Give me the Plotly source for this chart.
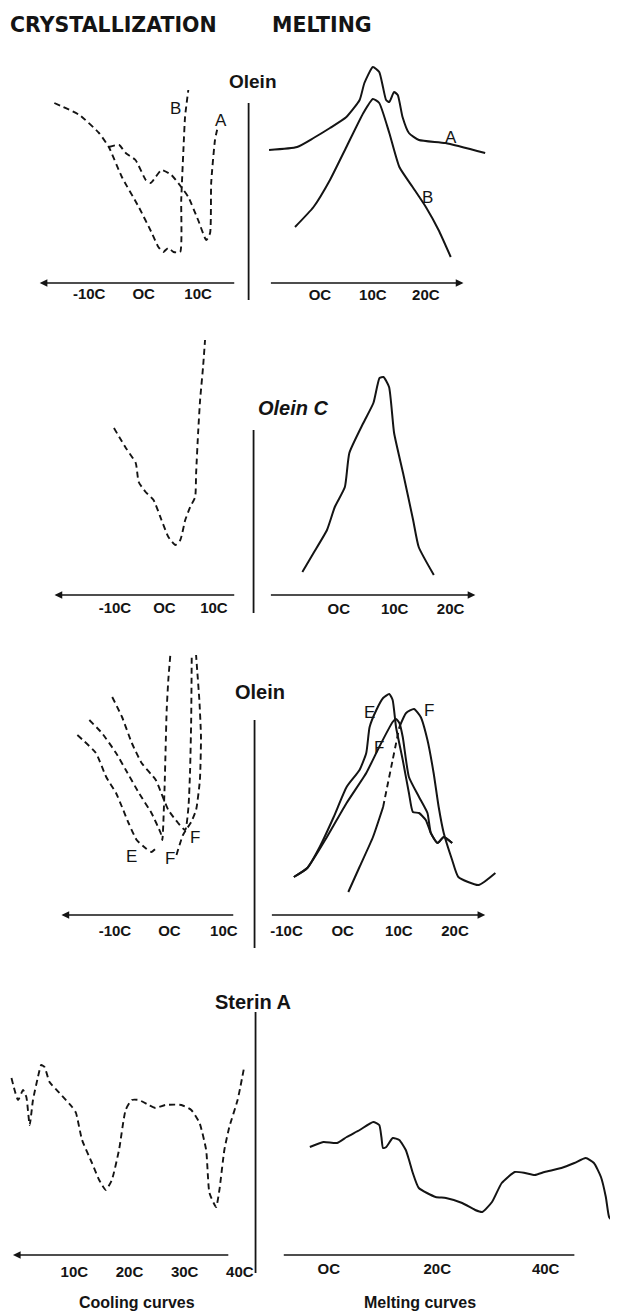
import plotly.graph_objects as go

# ---------------- DATA (temperature in deg C, signal in arbitrary units above baseline) -------------
# Row 1 - Olein, cooling
olein_cool_B_T = [-16.4, -11.8, -8.2, -6.4, -4.0, -0.9, 1.5, 2.7, 3.6, 4.5, 5.5, 6.7, 6.9, 7.3, 7.6, 8.2]
olein_cool_B_S = [180, 168, 150, 136, 106, 76, 50, 36, 31, 35, 31, 31, 83, 133, 166, 193]
olein_cool_A_T = [-6.4, -4.5, -3.3, -1.5, 0.4, 1.3, 2.2, 3.3, 5.1, 6.9, 8.2, 10.0, 11.5, 12.2, 12.4, 13.1, 13.6]
olein_cool_A_S = [136, 138, 130, 123, 103, 100, 106, 113, 108, 96, 86, 63, 43, 50, 100, 143, 156]
# Row 1 - Olein, melting
olein_melt_A_T = [-9.6, -4.3, -1.2, 1.9, 5.0, 7.5, 8.4, 10.0, 11.2, 11.9, 12.5, 13.1, 14.0, 14.7, 15.6, 16.8, 18.7, 23.7, 31.2]
olein_melt_A_S = [133, 136, 145, 155, 166, 183, 200, 216, 211, 196, 183, 181, 191, 188, 166, 150, 143, 140, 130]
olein_melt_B_T = [-4.7, -1.2, 1.9, 5.0, 8.2, 10.0, 11.2, 13.1, 15.0, 17.5, 20.0, 22.4, 24.7]
olein_melt_B_S = [56, 76, 103, 136, 170, 184, 180, 150, 116, 96, 76, 53, 26]
# Row 2 - Olein C
oleinC_cool_T = [-10.2, -7.8, -5.8, -5.2, -3.8, -2.2, -0.6, 0.8, 2.2, 3.2, 4.2, 5.2, 6.2, 6.4, 6.8, 7.2, 7.8, 8.2]
oleinC_cool_S = [167, 147, 132, 113, 103, 95, 75, 58, 50, 55, 75, 88, 98, 122, 162, 195, 228, 255]
oleinC_melt_T = [-6.5, -4.5, -2.1, -0.7, 1.1, 1.9, 4.4, 6.2, 7.3, 8.0, 9.0, 9.9, 11.5, 13.3, 14.3, 17.0]
oleinC_melt_S = [23, 42, 65, 88, 108, 142, 172, 192, 217, 218, 208, 162, 122, 75, 48, 20]
# Row 3 - Olein E / F, cooling
oleinEF_cool_E_T = [-16.9, -13.5, -11.6, -9.8, -8.7, -7.5, -6.0, -4.4, -3.3, -2.4]
oleinEF_cool_E_S = [180, 162, 138, 122, 108, 92, 75, 67, 63, 67]
oleinEF_cool_F1_T = [-14.7, -12.4, -9.8, -8.0, -5.6, -3.3, -1.6, -1.3, -0.9, -0.7, -0.5, -0.2, 0.2]
oleinEF_cool_F1_S = [195, 182, 162, 145, 122, 102, 82, 75, 125, 165, 205, 235, 262]
oleinEF_cool_F2_T = [-10.5, -8.7, -6.9, -5.1, -2.5, -1.5, -0.2, 1.6, 2.9, 3.5, 3.8, 4.0, 4.1]
oleinEF_cool_F2_S = [218, 198, 172, 152, 135, 122, 105, 92, 85, 108, 145, 195, 258]
oleinEF_cool_F3_T = [1.3, 2.5, 4.0, 4.9, 5.6, 5.8, 5.5, 5.1, 4.9]
oleinEF_cool_F3_S = [60, 80, 93, 105, 135, 178, 215, 245, 260]
# Row 3 - Olein E / F, melting
oleinEF_melt_E_T = [-8.7, -6.3, -4.1, -1.6, 0.7, 3.0, 4.2, 4.8, 6.0, 7.2, 8.3, 8.9, 9.5, 10.7, 11.8, 12.5, 13.6, 14.8, 15.7, 16.9, 18.0, 19.5]
oleinEF_melt_E_S = [38, 47, 68, 98, 128, 145, 162, 188, 205, 217, 221, 215, 188, 155, 122, 103, 102, 95, 82, 72, 78, 72]
oleinEF_melt_F_T = [-8.7, -6.3, -2.8, 0.7, 4.2, 6.5, 8.9, 9.5, 10.1, 10.7, 11.8, 13.6, 15.1, 15.7, 16.9, 18.0, 19.5]
oleinEF_melt_F_S = [38, 47, 78, 112, 142, 168, 193, 196, 192, 178, 138, 118, 102, 82, 72, 78, 72]
oleinEF_melt_F2_T = [1.0, 3.0, 5.4, 7.2, 8.9, 10.1, 11.3, 12.7, 13.9, 15.1, 16.2, 17.1, 18.0, 19.5, 20.6, 24.2, 27.2]
oleinEF_melt_F2_S = [23, 48, 78, 108, 155, 188, 202, 206, 198, 175, 142, 108, 82, 55, 38, 30, 42]
# Row 4 - Sterin A
sterin_cool_T = [-1.4, -0.2, 0.7, 1.3, 1.9, 2.5, 3.4, 4.0, 4.6, 5.5, 7.3, 9.6, 10.3, 11.4, 13.2, 14.5, 15.7, 16.8,
                 18.1, 19.3, 20.4, 21.7, 23.5, 24.7, 26.5, 29.4, 31.2, 32.7, 33.9, 34.5, 35.7, 36.3, 37.2, 38.1, 39.6, 40.8]
sterin_cool_S = [177, 155, 165, 158, 130, 155, 178, 190, 188, 173, 162, 148, 142, 115, 92, 75, 65, 75,
                 105, 145, 155, 155, 150, 147, 150, 150, 145, 132, 105, 62, 48, 65, 105, 128, 155, 188]
sterin_melt_T = [-3.5, -1.0, 1.5, 3.3, 5.7, 8.2, 9.3, 9.7, 10.0, 10.6, 11.8, 13.0, 14.2, 14.8, 15.5, 16.6, 19.7, 21.6,
                 24.6, 27.0, 28.3, 30.1, 31.9, 34.3, 36.2, 38.0, 39.8, 42.9, 45.3, 47.4, 48.9, 50.2, 51.1, 51.7, 52.2]
sterin_melt_S = [108, 113, 112, 118, 125, 133, 130, 118, 107, 108, 117, 115, 105, 95, 82, 67, 58, 57,
                 52, 45, 43, 53, 72, 83, 82, 80, 83, 87, 92, 97, 92, 78, 58, 38, 35]

tick_vals_1 = [-10, 0, 10]
tick_text_1 = ["-10C", "OC", "10C"]
tick_vals_2 = [0, 10, 20]
tick_text_2 = ["OC", "10C", "20C"]
tick_vals_6 = [-10, 0, 10, 20]
tick_text_6 = ["-10C", "OC", "10C", "20C"]
tick_vals_7 = [10, 20, 30, 40]
tick_text_7 = ["10C", "20C", "30C", "40C"]
tick_vals_8 = [0, 20, 40]
tick_text_8 = ["OC", "20C", "40C"]

# ---------------- LAYOUT / STYLE ----------------
PAGE_W, PAGE_H = 618, 1313
OFF = 8                      # default page margin around the plot div
W, H = PAGE_W - OFF, PAGE_H - OFF
INK = "#141414"
COLS = {"L": (8, 250), "R": (258, 618)}   # page pixels
PANEL_H = 275
LABEL_GAP = 13               # px from axis bottom to tick-label centre when ticklen = 0

# col, baseline px, px at 0C, px per degree, axis line px (lo, hi), arrow head side, tick vals, tick text, label offset
panels = [
    ("L", 283, 145, 5.5, (40, 238), "left", tick_vals_1, tick_text_1, 10),
    ("R", 283, 323, 5.35, (272, 468), "right", tick_vals_2, tick_text_2, 11),
    ("L", 595, 166, 5.0, (55, 238), "left", tick_vals_1, tick_text_1, 12),
    ("R", 595, 342, 5.65, (272, 480), "right", tick_vals_2, tick_text_2, 13),
    ("L", 915, 171, 5.5, (62, 237), "left", tick_vals_1, tick_text_1, 15),
    ("R", 915, 346, 5.67, (273, 490), "right", tick_vals_6, tick_text_6, 15),
    ("L", 1255, 19.3, 5.57, (13, 232), "left", tick_vals_7, tick_text_7, 16),
    ("R", 1255, 332, 5.475, (285, 580), "none", tick_vals_8, tick_text_8, 13),
]

fig = go.Figure()
annotations = []
shapes = []


def ax_ids(i):
    s = "" if i == 1 else str(i)
    return "x" + s, "y" + s, "xaxis" + s, "yaxis" + s


def fx(px):
    return (px - OFF) / W


def fy(py):
    return 1 - (py - OFF) / H


layout_axes = {}
for i, (col, base, a0, b, (l0, l1), head, tv, tt, off) in enumerate(panels, start=1):
    xr, yr, xk, yk = ax_ids(i)
    c0, c1 = COLS[col]
    t_lo = (c0 - a0) / b
    t_hi = (c1 - a0) / b
    if off >= LABEL_GAP:
        tlen, shift = off - LABEL_GAP, 0
    else:
        tlen, shift = 0, LABEL_GAP - off
    layout_axes[xk] = dict(
        domain=[fx(c0), fx(c1)], range=[t_lo, t_hi], anchor=yr,
        showgrid=False, zeroline=False, showline=False,
        tickvals=tv, ticktext=tt, ticks="outside", ticklen=tlen,
        tickcolor="rgba(0,0,0,0)",
        tickfont=dict(family="Liberation Sans, Arial, sans-serif", size=15, color=INK, weight="bold"),
        fixedrange=True,
    )
    layout_axes[yk] = dict(
        domain=[fy(base - shift), fy(base - PANEL_H)], range=[shift, PANEL_H], anchor=xr,
        visible=False, fixedrange=True,
    )
    # temperature axis line with arrow (cooling: arrow to the left, melting: to the right)
    tl = (l0 - a0) / b
    th = (l1 - a0) / b
    if head == "left":
        hx, tx, ah = tl, th, 2
    elif head == "right":
        hx, tx, ah = th, tl, 2
    else:
        hx, tx, ah = th, tl, 0
    annotations.append(dict(
        x=hx, y=fy(base), xref=xr, yref="paper", ax=tx, ay=0, axref=xr, ayref="pixel",
        showarrow=True, arrowhead=ah, arrowsize=1.1, arrowwidth=1.4, arrowcolor=INK, text="",
    ))

fig.update_layout(**layout_axes)


def add_line(i, xs, ys, dash="solid"):
    xr, yr, _, _ = ax_ids(i)
    fig.add_trace(go.Scatter(
        x=xs, y=ys, xaxis=xr, yaxis=yr, mode="lines",
        line=dict(color=INK, width=(1.9 if dash == "dash" else 2.0),
                  dash=("6px,4px" if dash == "dash" else dash), shape="spline", smoothing=0.5),
        hoverinfo="skip", showlegend=False, cliponaxis=False,
    ))


# Row 1
add_line(1, olein_cool_B_T, olein_cool_B_S, "dash")
add_line(1, olein_cool_A_T, olein_cool_A_S, "dash")
add_line(2, olein_melt_A_T, olein_melt_A_S)
add_line(2, olein_melt_B_T, olein_melt_B_S)
# Row 2
add_line(3, oleinC_cool_T, oleinC_cool_S, "dash")
add_line(4, oleinC_melt_T, oleinC_melt_S)
# Row 3
add_line(5, oleinEF_cool_E_T, oleinEF_cool_E_S, "dash")
add_line(5, oleinEF_cool_F1_T, oleinEF_cool_F1_S, "dash")
add_line(5, oleinEF_cool_F2_T, oleinEF_cool_F2_S, "dash")
add_line(5, oleinEF_cool_F3_T, oleinEF_cool_F3_S, "dash")
add_line(6, oleinEF_melt_E_T, oleinEF_melt_E_S)
add_line(6, oleinEF_melt_F_T, oleinEF_melt_F_S)
add_line(6, oleinEF_melt_F2_T[:4], oleinEF_melt_F2_S[:4])
add_line(6, oleinEF_melt_F2_T[3:6], oleinEF_melt_F2_S[3:6], "dash")
add_line(6, oleinEF_melt_F2_T[5:], oleinEF_melt_F2_S[5:])
# Row 4
add_line(7, sterin_cool_T, sterin_cool_S, "dash")
add_line(8, sterin_melt_T, sterin_melt_S)

# curve letters
LET = dict(family="Liberation Sans, Arial, sans-serif", size=17, color=INK)
for i, t, s, txt in [
    (1, 5.8, 175, "B"), (1, 14.2, 163, "A"),
    (2, 24.7, 146, "A"), (2, 20.4, 86, "B"),
    (5, -6.9, 58, "E"), (5, 0.2, 56, "F"), (5, 4.7, 77, "F"),
    (6, 4.8, 202, "E"), (6, 6.5, 167, "F"), (6, 15.3, 204, "F"),
]:
    xr, yr, _, _ = ax_ids(i)
    annotations.append(dict(x=t, y=s, xref=xr, yref=yr, text=txt, showarrow=False, font=LET,
                            xanchor="center", yanchor="middle"))


# titles (paper coords from page pixel positions)
def ptxt(px, py, txt, size, xanchor="center", family="Liberation Sans, Arial, sans-serif", italic=False):
    t = "<b>%s</b>" % txt
    if italic:
        t = "<i>%s</i>" % t
    annotations.append(dict(x=fx(px), y=fy(py), xref="paper", yref="paper", text=t, showarrow=False,
                            xanchor=xanchor, yanchor="middle",
                            font=dict(family=family, size=size, color=INK)))


ptxt(8, 25, "CRYSTALLIZATION", 20.5, "left", family="DejaVu Sans, sans-serif")
ptxt(273, 25, "MELTING", 20.5, "left", family="DejaVu Sans, sans-serif")
ptxt(255, 81, "Olein", 19)
ptxt(296, 408, "Olein C", 20, italic=True)
ptxt(262, 692, "Olein", 20)
ptxt(255, 1002, "Sterin A", 20)
ptxt(138, 1302, "Cooling curves", 16)
ptxt(424, 1302, "Melting curves", 16)

# vertical separators between cooling and melting columns
for px, y0, y1 in [(251, 103, 300), (256, 430, 613), (257, 720, 948), (258, 1012, 1273)]:
    shapes.append(dict(type="line", xref="paper", yref="paper", x0=fx(px), x1=fx(px),
                       y0=fy(y0), y1=fy(y1), line=dict(color=INK, width=1.8)))

fig.update_layout(
    width=W, height=H, margin=dict(l=0, r=0, t=0, b=0),
    paper_bgcolor="white", plot_bgcolor="white",
    annotations=annotations, shapes=shapes, showlegend=False,
)

fig.write_html("out.html", config={"displayModeBar": False})
